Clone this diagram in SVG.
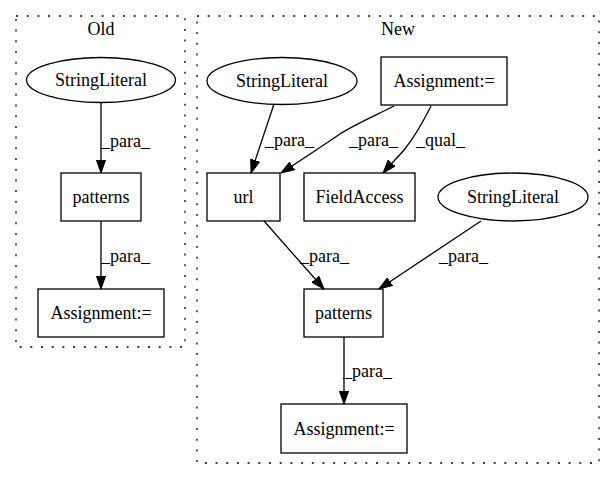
<svg xmlns="http://www.w3.org/2000/svg" width="615" height="480" viewBox="0 0 615 480">
<style>
text{font-family:"Liberation Serif","Times New Roman",serif;font-size:18px;fill:#000}
.n{text-anchor:middle}
.shape{fill:none;stroke:#000;stroke-width:1.3}
.cluster{fill:none;stroke:#000;stroke-width:1.3;stroke-dasharray:2 8.7}
.edge{fill:none;stroke:#000;stroke-width:1.3;marker-end:url(#arr)}
</style>
<defs>
<marker id="arr" markerUnits="userSpaceOnUse" markerWidth="14" markerHeight="10" refX="13.3" refY="4.7" orient="auto" viewBox="0 0 14 9.4">
<path d="M0,0 L13.3,4.7 L0,9.4 Z" fill="#000" stroke="#000" stroke-width="1"/>
</marker>
</defs>
<rect width="615" height="480" fill="#fff"/>
<g id="cluster_old">
<rect class="cluster" x="16" y="16" width="169" height="331"/>
<text class="n" x="101" y="35">Old</text>
</g>
<g id="cluster_new">
<rect class="cluster" x="197" y="16" width="402" height="447"/>
<text class="n" x="398" y="35">New</text>
</g>
<g id="edges">
<path class="edge" d="M101,103 L101,173"/>
<text x="101" y="147">_para_</text>
<path class="edge" d="M101,221 L101,289"/>
<text x="101" y="262">_para_</text>
<path class="edge" d="M274,104 L251,173"/>
<text x="265" y="146">_para_</text>
<path class="edge" d="M394,106 C370,118 352,126 340,134 S300,161 281,173"/>
<text x="349" y="146">_para_</text>
<path class="edge" d="M431,106 C423,122 414,138 404,150 C397,158 390,165 383,173"/>
<text x="416" y="146">_qual_</text>
<path class="edge" d="M264,221 L324,289"/>
<text x="300" y="262">_para_</text>
<path class="edge" d="M481,221 L379,289"/>
<text x="439" y="262">_para_</text>
<path class="edge" d="M344,337 L344,404"/>
<text x="343" y="377">_para_</text>
</g>
<g id="old_stringliteral">
<ellipse class="shape" cx="101" cy="80" rx="74.5" ry="22.5"/>
<text class="n" x="101" y="86">StringLiteral</text>
</g>
<g id="old_patterns">
<rect class="shape" x="61" y="173" width="80" height="48"/>
<text class="n" x="101" y="203">patterns</text>
</g>
<g id="old_assignment">
<rect class="shape" x="38" y="289" width="126" height="48"/>
<text class="n" x="101" y="319">Assignment:=</text>
</g>
<g id="new_stringliteral1">
<ellipse class="shape" cx="282" cy="81" rx="75" ry="23.5"/>
<text class="n" x="282" y="87">StringLiteral</text>
</g>
<g id="new_assignment_top">
<rect class="shape" x="381" y="57" width="126" height="48"/>
<text class="n" x="444" y="87">Assignment:=</text>
</g>
<g id="new_url">
<rect class="shape" x="207" y="173" width="73" height="48"/>
<text class="n" x="243.5" y="203">url</text>
</g>
<g id="new_fieldaccess">
<rect class="shape" x="304" y="173" width="111" height="48"/>
<text class="n" x="359.5" y="203">FieldAccess</text>
</g>
<g id="new_stringliteral2">
<ellipse class="shape" cx="513" cy="197" rx="75" ry="24"/>
<text class="n" x="513" y="203">StringLiteral</text>
</g>
<g id="new_patterns">
<rect class="shape" x="304" y="289" width="79" height="48"/>
<text class="n" x="343.5" y="319">patterns</text>
</g>
<g id="new_assignment_bottom">
<rect class="shape" x="281" y="404" width="126" height="49"/>
<text class="n" x="344" y="435">Assignment:=</text>
</g>
</svg>
